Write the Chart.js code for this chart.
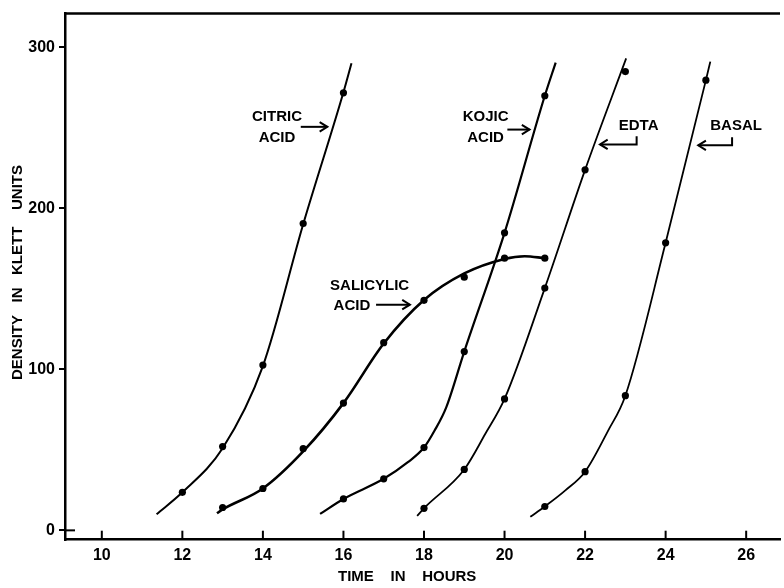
<!DOCTYPE html>
<html><head><meta charset="utf-8">
<script src="https://cdn.jsdelivr.net/npm/chart.js@4.4.0/dist/chart.umd.min.js"></script>
<style>html,body{margin:0;padding:0;background:#fff;}#wrap{width:784px;height:588px;position:relative;}</style>
</head><body><div id="wrap"><canvas id="c" width="784" height="588"></canvas></div>
<script>
// ---- data ----
const hourTicks = [10,12,14,16,18,20,22,24,26];
const densityTicks = [0,100,200,300];
const xTitle = 'TIME    IN    HOURS';
const yTitle = 'DENSITY   IN   KLETT    UNITS';

// measured points (dots)
const citricHours = [12,13,14,15,16];
const citricDensity = [23.6,52,102.6,190.5,271.6];
const salicylicHours = [13,14,15,16,17,18,19,20,21];
const salicylicDensity = [14.2,26,50.7,79,116.5,142.8,157.2,169,169];
const kojicHours = [16,17,18,19,20,21];
const kojicDensity = [19.5,32,51.4,111,184.7,269.8];
const edtaHours = [18,19,20,21,22,23];
const edtaDensity = [13.7,37.8,81.6,150.4,223.8,284.8];
const basalHours = [21,22,23,24,25];
const basalDensity = [14.8,36.4,83.6,178.5,279.5];

// fitted curves
const citricCurveHours = [11.36,12,13,14,15,16,16.2];
const citricCurveDensity = [10,23.6,51,102,190,272,290];
const salicylicCurveHours = [12.86,13,14,15,16,17,18,19,20,20.5,21];
const salicylicCurveDensity = [10.6,13,26,49,79,116,143,159.5,168.5,170.2,169];
const kojicCurveHours = [15.42,16,17,17.6,18,18.26,18.55,19,20,21,21.27];
const kojicCurveDensity = [10.2,19.5,32,42.3,51.4,61.8,76.2,111,184.7,269.8,290.4];
const edtaCurveHours = [17.83,18,19,19.52,20,21,22,23.02];
const edtaCurveDensity = [9,13.7,37.8,59.8,81.6,150.4,223.8,293];
const basalCurveHours = [20.64,21,21.51,22,22.57,23,24,25,25.11];
const basalCurveDensity = [8.4,14.8,24.8,36.4,61.8,83.6,178.5,279.5,291];

// ---- chart ----
const FONT = '"Liberation Sans", Arial, Helvetica, sans-serif';
const pts = (xs, ys) => xs.map((x,i) => ({x, y: ys[i]}));
const curve = (label, xs, ys, w) => ({label, data: pts(xs,ys), showLine:true, borderColor:'#000', borderWidth:w,
  pointRadius:0, pointHoverRadius:0, cubicInterpolationMode:'monotone', fill:false, order:2});
const dots = (label, xs, ys) => ({label, data: pts(xs,ys), showLine:false, pointRadius:3.6, pointBackgroundColor:'#000',
  pointBorderColor:'#000', pointBorderWidth:0, order:1});

const notes = [
  {lines:['CITRIC','ACID'], t:14.35, v:[256.7,243.8]},
  {lines:['SALICYLIC','ACID'], t:[16.65,16.21], v:[151.9,139.5]},
  {lines:['KOJIC','ACID'], t:19.53, v:[256.7,243.8]},
  {lines:['EDTA'], t:23.33, v:[251.1]},
  {lines:['BASAL'], t:25.75, v:[251.1]}
];
const arrows = [
  {path:[[14.94,250.5],[15.6,250.5]]},
  {path:[[16.81,140.1],[17.65,140.1]]},
  {path:[[20.07,248.8],[20.62,248.8]]},
  {path:[[23.28,244.6],[23.28,239.6],[22.37,239.6]]},
  {path:[[25.65,244.0],[25.65,239.0],[24.81,239.0]]}
];

const annot = {
  id:'annot',
  afterDraw(chart){
    const {ctx, chartArea:a, scales:{x,y}} = chart;
    ctx.save();
    ctx.strokeStyle = '#000'; ctx.fillStyle = '#000';
    // top frame line
    ctx.lineWidth = 2.5;
    ctx.beginPath(); ctx.moveTo(a.left-1, a.top); ctx.lineTo(a.right, a.top); ctx.stroke();
    // inward x ticks
    ctx.lineWidth = 2;
    hourTicks.forEach(h => { const px = x.getPixelForValue(h); ctx.beginPath(); ctx.moveTo(px, a.bottom); ctx.lineTo(px, a.bottom-9); ctx.stroke(); });
    // the zero tick also crosses into the plot
    const y0 = y.getPixelForValue(densityTicks[0]);
    ctx.beginPath(); ctx.moveTo(a.left, y0); ctx.lineTo(a.left+10, y0); ctx.stroke();
    // text labels
    ctx.font = 'bold 15px ' + FONT;
    ctx.textAlign = 'center'; ctx.textBaseline = 'middle';
    notes.forEach(n => n.lines.forEach((s,i) => {
      const t = Array.isArray(n.t) ? n.t[i] : n.t;
      ctx.fillText(s, x.getPixelForValue(t), y.getPixelForValue(n.v[i]));
    }));
    // arrows
    ctx.lineWidth = 2; ctx.lineCap = 'butt'; ctx.lineJoin = 'miter';
    arrows.forEach(ar => {
      const p = ar.path.map(([t,v]) => [x.getPixelForValue(t), y.getPixelForValue(v)]);
      ctx.beginPath(); ctx.moveTo(p[0][0], p[0][1]);
      for (let i=1;i<p.length;i++) ctx.lineTo(p[i][0], p[i][1]);
      ctx.stroke();
      const [x2,y2] = p[p.length-1], [x1,y1] = p[p.length-2];
      const ang = Math.atan2(y2-y1, x2-x1), L = 9, W = 0.55;
      ctx.beginPath();
      ctx.moveTo(x2 - L*Math.cos(ang-W), y2 - L*Math.sin(ang-W));
      ctx.lineTo(x2, y2);
      ctx.lineTo(x2 - L*Math.cos(ang+W), y2 - L*Math.sin(ang+W));
      ctx.stroke();
    });
    // axis titles
    ctx.textAlign = 'left';
    ctx.fillText(xTitle, 338, a.bottom + 37.5);
    ctx.translate(17.5, 380); ctx.rotate(-Math.PI/2);
    ctx.fillText(yTitle, 0, 0);
    ctx.restore();
  }
};

const white = {id:'white', beforeDraw(c){const g=c.ctx; g.save(); g.fillStyle='#fff'; g.fillRect(0,0,c.width,c.height); g.restore();}};

new Chart(document.getElementById('c'), {
  type:'scatter',
  data:{datasets:[
    curve('CITRIC ACID curve', citricCurveHours, citricCurveDensity, 2),
    curve('SALICYLIC ACID curve', salicylicCurveHours, salicylicCurveDensity, 2.6),
    curve('KOJIC ACID curve', kojicCurveHours, kojicCurveDensity, 2.2),
    curve('EDTA curve', edtaCurveHours, edtaCurveDensity, 1.8),
    curve('BASAL curve', basalCurveHours, basalCurveDensity, 1.8),
    dots('CITRIC ACID', citricHours, citricDensity),
    dots('SALICYLIC ACID', salicylicHours, salicylicDensity),
    dots('KOJIC ACID', kojicHours, kojicDensity),
    dots('EDTA', edtaHours, edtaDensity),
    dots('BASAL', basalHours, basalDensity)
  ]},
  options:{
    responsive:false, animation:false, devicePixelRatio:1,
    layout:{padding:{top:10,right:0,left:0,bottom:0}},
    plugins:{legend:{display:false}, tooltip:{enabled:false}},
    scales:{
      x:{type:'linear', min:9.086, max:26.84,
        afterBuildTicks:s => { s.ticks = hourTicks.map(v => ({value:v})); },
        afterFit:s => { s.height = 48.3; },
        grid:{drawOnChartArea:false, drawTicks:false},
        border:{display:true, color:'#000', width:2.5},
        ticks:{padding:6, color:'#000', font:{family:FONT, size:16, weight:'bold'}, maxRotation:0, autoSkip:false}
      },
      y:{type:'linear', min:-5.8, max:320.8,
        afterBuildTicks:s => { s.ticks = densityTicks.map(v => ({value:v})); },
        afterFit:s => { s.width = 65; },
        grid:{drawOnChartArea:false, drawTicks:true, tickLength:6, color:'#000', lineWidth:2},
        border:{display:true, color:'#000', width:2.5},
        ticks:{padding:4, color:'#000', font:{family:FONT, size:16, weight:'bold'}, autoSkip:false}
      }
    }
  },
  plugins:[white, annot]
});
</script></body></html>
